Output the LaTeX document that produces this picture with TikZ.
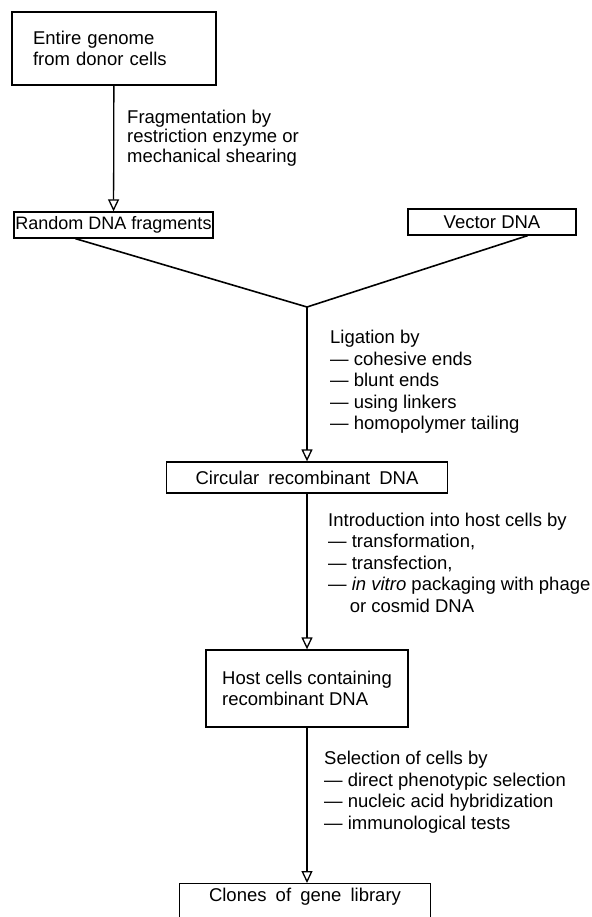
\documentclass[tikz,border=0pt]{standalone}
\usepackage{fontspec}
\setmainfont{Liberation Sans}
\usetikzlibrary{arrows.meta,calc}

\begin{document}
\begin{tikzpicture}[x=1pt,y=-1pt,
 box/.style={draw,line width=1.3pt,inner sep=0pt,font=\fontsize{18.5}{21}\selectfont},
 note/.style={anchor=west,align=left,inner sep=0pt,font=\fontsize{18.5}{21.5}\selectfont},
 flow/.style={-{Triangle[open,length=12pt,width=11pt]},line width=1.3pt},
 merge/.style={line width=1.6pt}
]
\useasboundingbox (0,0) rectangle (591,917);
% boxes
\node[box,line width=1.8pt,minimum width=204pt,minimum height=73pt,
 text width=162pt,align=left] (genome) at (114,48.5) {Entire genome\\from donor cells};
\node[box,minimum width=199pt,minimum height=26pt,font=\fontsize{18}{21}\selectfont]
 (random) at (113.5,225) {Random DNA fragments};
\node[box,minimum width=168pt,minimum height=26pt] (vector) at (492,222) {Vector DNA};
\node[box,minimum width=281pt,minimum height=31pt] (circ) at (307,477.5)
 {Circular\hspace{4pt} recombinant\hspace{4pt} DNA};
\node[box,minimum width=202pt,minimum height=77pt,align=left]
 (host) at (307,688.5) {Host cells containing\\recombinant DNA};
\node[box,anchor=north,minimum width=251pt,inner ysep=5pt,text height=13pt,text depth=31pt]
 (clones) at (305,883) {Clones\hspace{4pt} of\hspace{4pt} gene\hspace{4pt} library};
\coordinate (junc) at (307,307);
% labels
\node[note,font=\fontsize{18.5}{19.5}\selectfont] (frag) at (127,138)
 {Fragmentation by\\restriction enzyme or\\mechanical shearing};
\node[note] (lig) at (330,382)
 {Ligation by\\--- cohesive ends\\--- blunt ends\\--- using linkers\\--- homopolymer tailing};
\node[note] (intro) at (328,562.5)
 {Introduction into host cells by\\--- transformation,\\--- transfection,\\--- \textit{in vitro} packaging with phage\\\phantom{---}\,or cosmid DNA};
\node[note] (sel) at (324,792)
 {Selection of cells by\\--- direct phenotypic selection\\--- nucleic acid hybridization\\--- immunological tests};
% connectors
\draw[flow] (genome) -- (random);
\draw[merge] ($(random.south west)!0.31!(random.south east)$) -- (junc)
 -- ($(vector.south west)!0.71!(vector.south east)$);
\draw[flow] (junc) -- (circ);
\draw[flow] (circ) -- (host);
\draw[flow] (host) -- (host |- clones.north);
\end{tikzpicture}
\end{document}
